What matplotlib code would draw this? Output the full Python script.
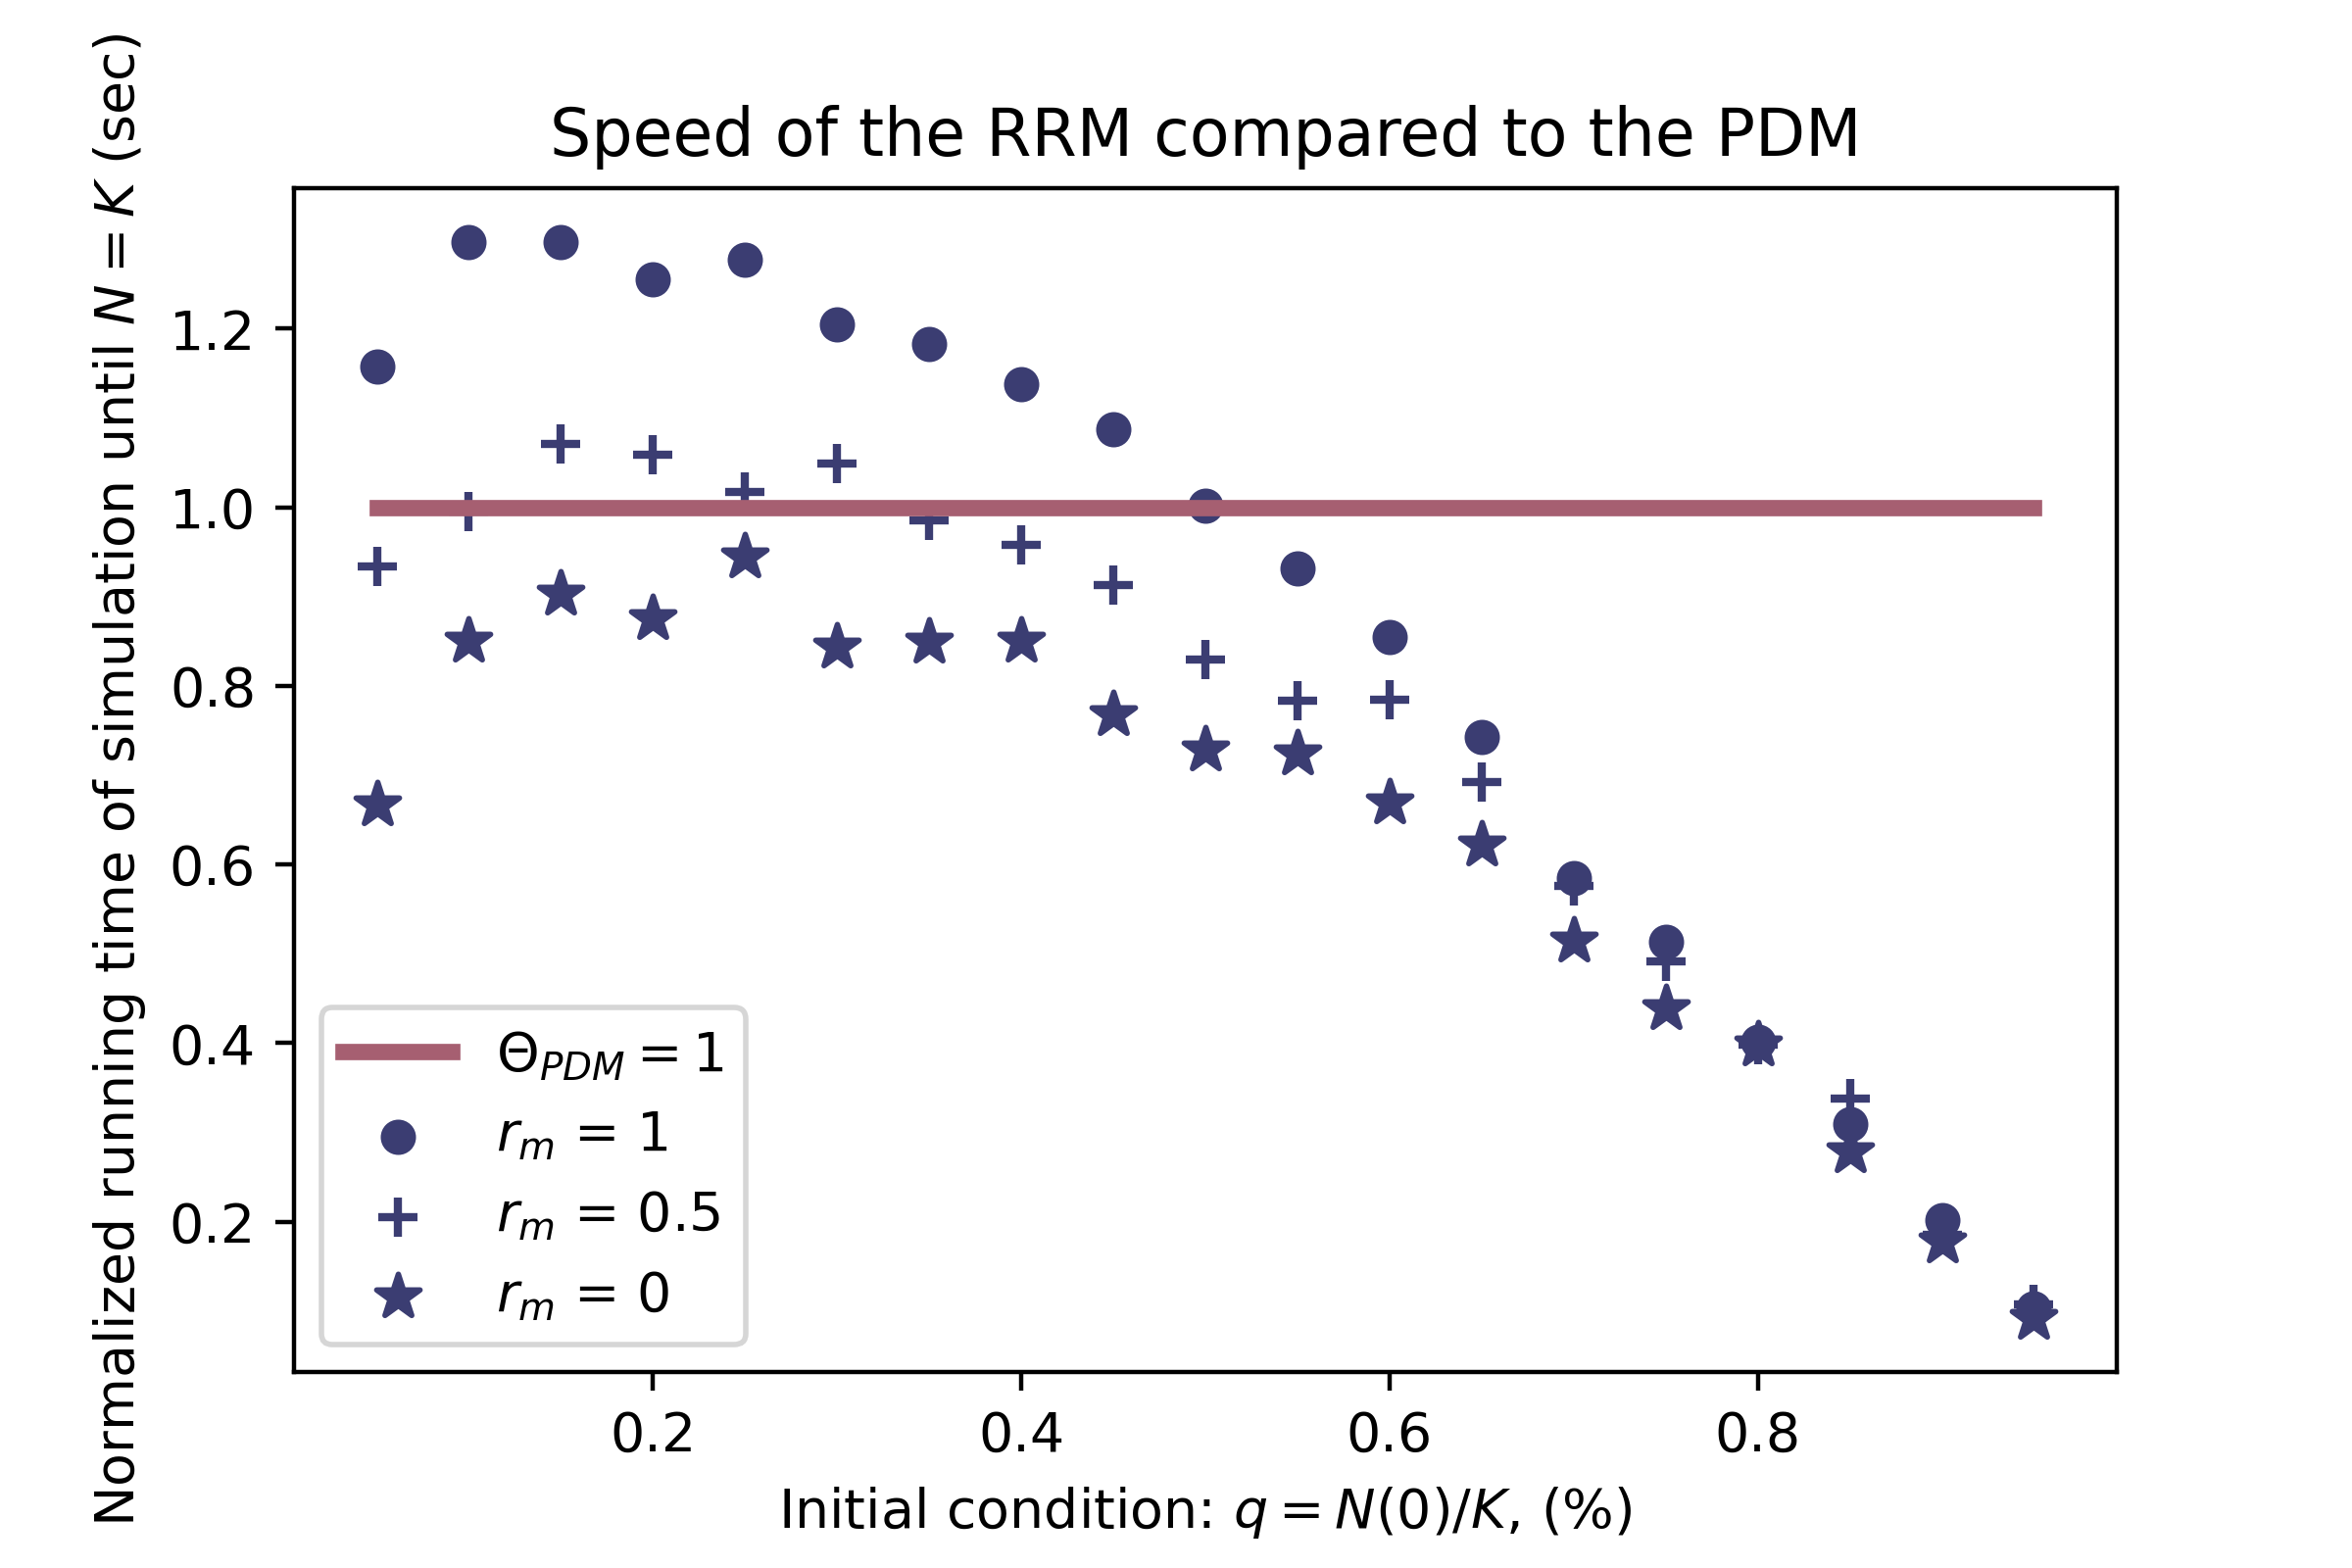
import numpy as np
import matplotlib.pyplot as plt

q = [0.05, 0.10, 0.15, 0.20, 0.25, 0.30, 0.35, 0.40, 0.45, 0.50,
     0.55, 0.60, 0.65, 0.70, 0.75, 0.80, 0.85, 0.90, 0.95]

rm1 = [1.158, 1.297, 1.297, 1.255, 1.277, 1.205, 1.183, 1.138, 1.087, 1.002,
       0.931, 0.855, 0.743, 0.585, 0.513, 0.402, 0.309, 0.202, 0.103]
rm05 = [0.934, 0.995, 1.071, 1.059, 1.017, 1.049, 0.985, 0.958, 0.913, 0.830,
        0.783, 0.785, 0.692, 0.576, 0.492, 0.398, 0.338, 0.185, 0.108]
rm0 = [0.667, 0.850, 0.903, 0.876, 0.945, 0.844, 0.849, 0.850, 0.768, 0.729,
       0.724, 0.669, 0.622, 0.514, 0.439, 0.398, 0.279, 0.178, 0.092]

pdm = [1.0] * len(q)

navy = '#3b3d72'
rose = '#a65f71'

fig = plt.figure(figsize=(6, 4), dpi=400)
ax = fig.add_axes([0.125, 0.125, 0.775, 0.755])

ax.plot(q, pdm, color=rose, linewidth=3, label=r'$\Theta_{PDM} = 1$')
ax.scatter(q, rm1, marker='o', s=30, color=navy, label=r'$r_m$ = 1')
ax.scatter(q, rm05, marker='+', s=52, color=navy, label=r'$r_m$ = 0.5')
ax.scatter(q, rm0, marker='*', s=70, color=navy, label=r'$r_m$ = 0')

ax.set_title('Speed of the RRM compared to the PDM')
ax.set_xlabel(r'Initial condition: $q = N(0)/K$, (%)')
ax.set_ylabel(r'Normalized running time of simulation until $N = K$ (sec)')
ax.legend(loc='lower left')

fig.savefig('out.png', dpi=400)
